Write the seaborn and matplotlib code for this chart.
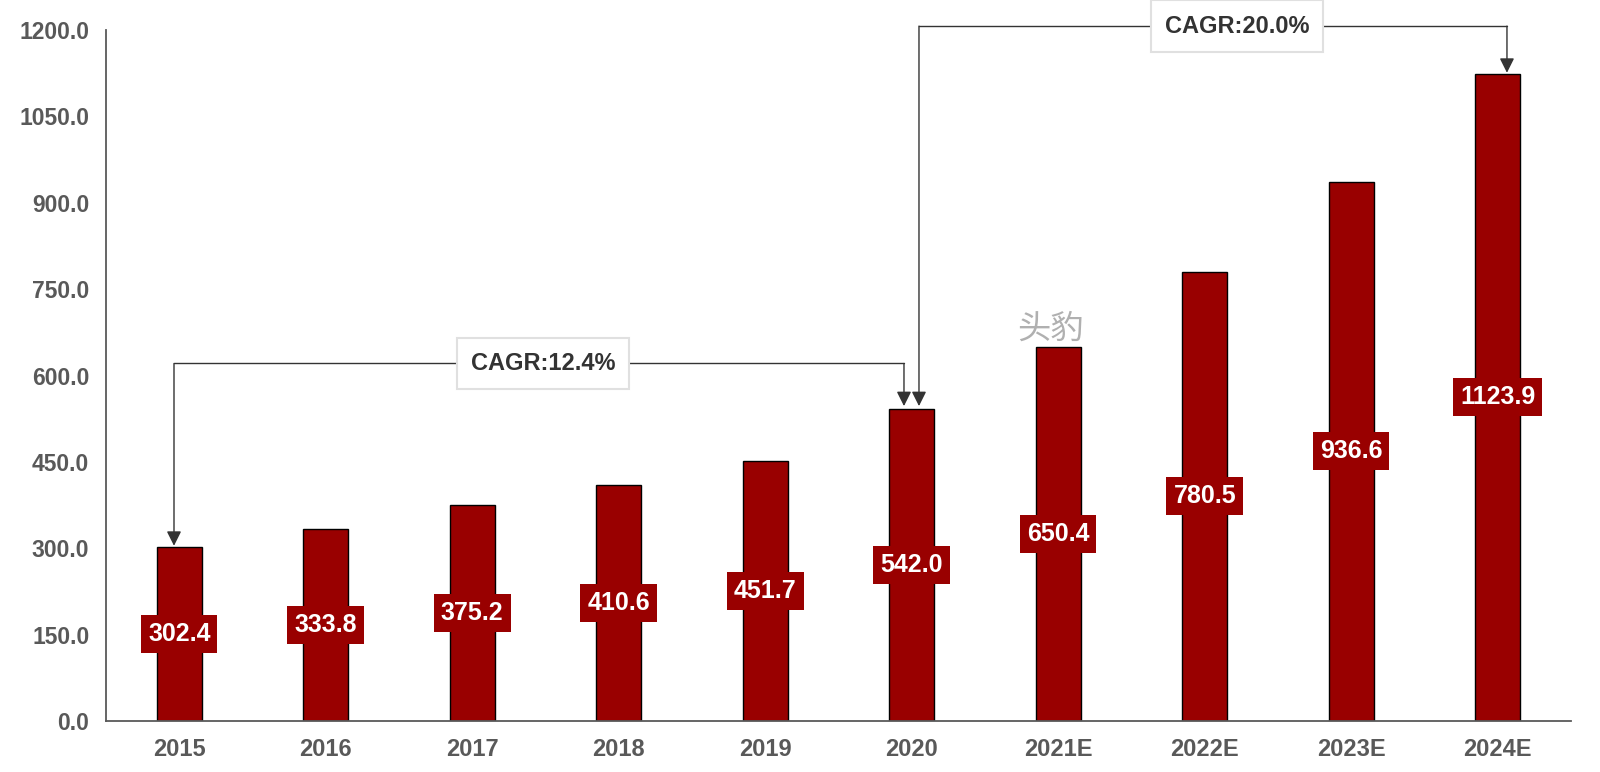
import matplotlib
matplotlib.use("Agg")
import matplotlib.pyplot as plt
import seaborn as sns
import numpy as np

categories = ["2015", "2016", "2017", "2018", "2019", "2020", "2021E", "2022E", "2023E", "2024E"]
values = [302.4, 333.8, 375.2, 410.6, 451.7, 542.0, 650.4, 780.5, 936.6, 1123.9]
yticks = [0, 150, 300, 450, 600, 750, 900, 1050, 1200]
cagr1_label = "CAGR:12.4%"
cagr2_label = "CAGR:20.0%"

sns.set_style("white")
plt.rcParams['font.family'] = ['Liberation Sans', 'DejaVu Sans']

fig = plt.figure(figsize=(16, 7.72), dpi=100)
ax = fig.add_axes([0.06625, 0.066, 0.9156, 0.895])

bar_color = "#990000"
sns.barplot(x=categories, y=values, color=bar_color, width=0.31,
            edgecolor="black", linewidth=1, saturation=1, ax=ax)

ax.set_xlim(-0.5, 9.5)
ax.set_ylim(0, 1200)
ax.set_yticks(yticks)
ax.set_yticklabels([f"{v:.1f}" for v in yticks])
ax.set_xticks(range(len(categories)))
ax.set_xticks(np.arange(-0.5, 10, 1), minor=True)

grey = "#595959"
for s in ["top", "right"]:
    ax.spines[s].set_visible(False)
for s in ["left", "bottom"]:
    ax.spines[s].set_color(grey)
    ax.spines[s].set_linewidth(1.3)

ax.tick_params(axis="x", which="major", length=0, pad=12, labelsize=17, labelcolor=grey)
ax.tick_params(axis="x", which="minor", direction="in", length=6, width=1.2, color=grey)
ax.tick_params(axis="y", which="major", direction="in", length=5, width=1.2, color=grey,
               pad=12, labelsize=16.5, labelcolor=grey)
for lab in ax.get_xticklabels() + ax.get_yticklabels():
    lab.set_fontweight("bold")
ax.set_xlabel("")
ax.set_ylabel("")

# value labels
for i, v in enumerate(values):
    ax.text(i, v / 2, f"{v:.1f}", ha="center", va="center", color="white",
            fontsize=18, fontweight="bold",
            bbox=dict(boxstyle="square,pad=0.28", fc=bar_color, ec="none"))

# CAGR brackets
lc = "#333333"
def bracket(x0, x1, y_top, tip0, tip1, label, xlabel):
    ax.plot([x0, x1], [y_top, y_top], color=lc, lw=1, clip_on=False, zorder=3)
    arrow = dict(arrowstyle="-|>", color=lc, lw=1, mutation_scale=22, shrinkA=0, shrinkB=0)
    ax.annotate("", xy=(x0, tip0), xytext=(x0, y_top), arrowprops=arrow, annotation_clip=False)
    ax.annotate("", xy=(x1, tip1), xytext=(x1, y_top), arrowprops=arrow, annotation_clip=False)
    ax.text(xlabel, y_top, label, ha="center", va="center", color=lc, fontsize=17,
            fontweight="bold", zorder=4,
            bbox=dict(boxstyle="square,pad=0.6", fc="white", ec="#e0e0e0", lw=1.5))

def px2x(px):
    return (px - 106) / 146.5 - 0.5

bracket(px2x(174), px2x(904), 621, values[0] + 2, values[5] + 5, cagr1_label, px2x(543))
bracket(px2x(919), px2x(1507), 1207, values[5] + 5, values[9] + 2, cagr2_label, px2x(1237))

# watermark
ax.text(px2x(1051), 680, "头豹", ha="center", va="center", fontsize=24, color="#b0b0b0",
        family=["Noto Sans CJK SC", "DejaVu Sans"], zorder=5)

fig.savefig("out.png", dpi=100)
